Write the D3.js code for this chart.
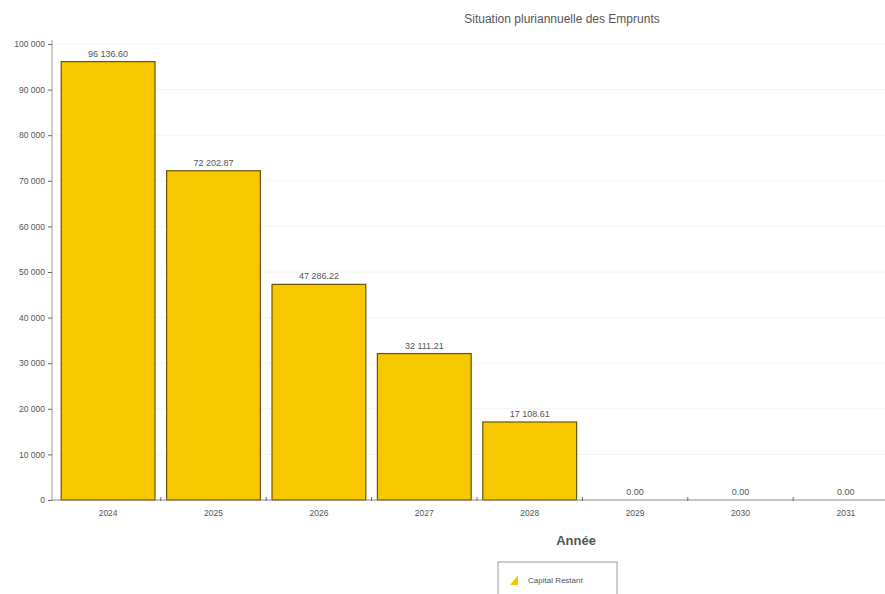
<!DOCTYPE html>
<html><head><meta charset="utf-8">
<script src="https://cdn.jsdelivr.net/npm/d3@7/dist/d3.min.js"></script>
<style>body{margin:0;background:#fff;font-family:"Liberation Sans",Arial,sans-serif}</style>
</head><body><svg id="c" width="885" height="594"></svg>
<script>
const years = ["2024","2025","2026","2027","2028","2029","2030","2031"];
const capitalRestant = [96136.60, 72202.87, 47286.22, 32111.21, 17108.61, 0, 0, 0];
const yTicks = [0,10000,20000,30000,40000,50000,60000,70000,80000,90000,100000];

const svg = d3.select("#c");
const x = d3.scaleBand().domain(years).range([57, 897]).paddingInner(0.11).paddingOuter(0.04);
const y = d3.scaleLinear().domain([0,100000]).range([500, 44]);
const fmt = v => d3.format(",.2f")(v).replace(/,/g," ");
const fmtTick = v => d3.format(",")(v).replace(/,/g," ");

// grid
svg.append("g").selectAll("line").data(yTicks.slice(1)).join("line")
  .attr("x1",53).attr("x2",885).attr("y1",d=>y(d)).attr("y2",d=>y(d))
  .attr("stroke","#f4f4f4");

// bars
svg.append("g").selectAll("rect").data(years).join("rect")
  .attr("x",d=>x(d)).attr("width",x.bandwidth())
  .attr("y",(d,i)=>y(capitalRestant[i])).attr("height",(d,i)=>y(0)-y(capitalRestant[i]))
  .attr("fill","#F7C700").attr("stroke","#6b5500").attr("stroke-width",1.2);

// value labels
svg.append("g").selectAll("text").data(years).join("text")
  .attr("x",d=>x(d)+x.bandwidth()/2).attr("y",(d,i)=>y(capitalRestant[i])-5)
  .attr("text-anchor","middle").attr("font-size",9).attr("fill","#555")
  .text((d,i)=>fmt(capitalRestant[i]));

// y axis
const ya = svg.append("g").attr("transform","translate(52,0)")
  .call(d3.axisLeft(y).tickValues(yTicks).tickSize(4).tickFormat(fmtTick));
ya.select(".domain").attr("stroke","#999").attr("d","M0,40V500");
ya.selectAll(".tick line").attr("stroke","#666");
ya.selectAll(".tick text").attr("font-size",8.5).attr("fill","#555").attr("font-family","Liberation Sans, Arial");

// x axis
const xa = svg.append("g").attr("transform","translate(0,500)")
  .call(d3.axisBottom(x).tickSize(0).tickPadding(10));
xa.select(".domain").attr("stroke","#888").attr("d","M52,0H885");
xa.selectAll(".tick text").attr("font-size",8.5).attr("fill","#555").attr("font-family","Liberation Sans, Arial");
// separators between categories
svg.append("g").selectAll("line").data(years.slice(1)).join("line")
  .attr("x1",d=>x(d)-x.step()*x.paddingInner()/2).attr("x2",d=>x(d)-x.step()*x.paddingInner()/2)
  .attr("y1",497).attr("y2",501).attr("stroke","#666");

// titles
svg.append("text").attr("x",562).attr("y",23).attr("text-anchor","middle")
  .attr("font-size",12).attr("fill","#555").text("Situation pluriannuelle des Emprunts");
svg.append("text").attr("x",576).attr("y",545).attr("text-anchor","middle")
  .attr("font-size",13).attr("fill","#555").attr("font-weight","bold").text("Année");

// legend
const lg = svg.append("g").attr("transform","translate(498,562)");
lg.append("rect").attr("width",119).attr("height",34).attr("fill","#fff").attr("stroke","#999");
lg.append("path").attr("d","M12,23 L20,23 L20,13 Z").attr("fill","#F7C700");
lg.append("text").attr("x",30).attr("y",21).attr("font-size",8).attr("fill","#555").text("Capital Restant");
</script></body></html>
